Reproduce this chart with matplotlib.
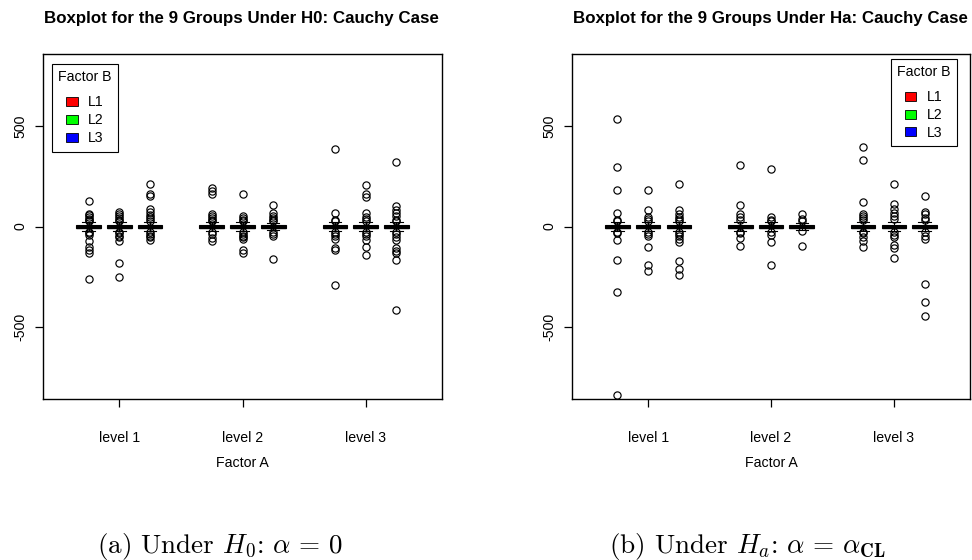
import matplotlib
matplotlib.use("Agg")
import matplotlib.pyplot as plt
from matplotlib.patches import Patch

plt.rcParams['font.family'] = ['Liberation Sans', 'DejaVu Sans']
plt.rcParams['mathtext.fontset'] = 'cm'

# ---------------- data ----------------
positions = [1, 2, 3, 5, 6, 7, 9, 10, 11]
level_ticks = [2, 6, 10]
level_labels = ['level 1', 'level 2', 'level 3']
factor_b = ['L1', 'L2', 'L3']
box_colors = ['#FF0000', '#00FF00', '#0000FF']

# Under H0
h0_med = [0, 0, 0, 0, 0, 0, 0, 0, 0]
h0_q1 = [-7, -7, -7, -7, -7, -6, -7, -7, -8]
h0_q3 = [7, 7, 8, 7, 6, 6, 7, 7, 8]
h0_whislo = [-20, -20, -20, -20, -20, -18, -20, -20, -20]
h0_whishi = [20, 20, 20, 20, 20, 18, 20, 20, 20]
h0_fliers = [
    [125, 63, 55, 45, 38, 30, 25, -25, -32, -40, -73, -103, -117, -133, -263],
    [72, 63, 52, 42, 33, 25, -25, -33, -45, -53, -73, -183, -252],
    [210, 163, 152, 88, 72, 55, 45, 35, 27, -25, -35, -45, -53, -65],
    [192, 177, 160, 63, 52, 40, 30, 25, -25, -35, -57, -70],
    [162, 50, 42, 33, 25, -25, -35, -45, -53, -62, -117, -133],
    [108, 68, 52, 40, 30, 25, -25, -35, -45, -160],
    [387, 65, 30, 25, -25, -35, -45, -62, -108, -115, -290],
    [208, 163, 147, 67, 47, 38, 28, -25, -35, -45, -67, -103, -142],
    [323, 100, 83, 67, 50, 33, 25, -25, -35, -50, -67, -108, -120, -133, -165, -417],
]

# Under Ha
ha_med = [0, 0, 0, 0, 0, 0, 0, 0, 0]
ha_q1 = [-7, -7, -7, -7, -6, -5, -7, -7, -7]
ha_q3 = [7, 7, 7, 7, 6, 5, 7, 7, 7]
ha_whislo = [-20, -20, -20, -20, -20, -15, -20, -20, -20]
ha_whishi = [20, 20, 20, 20, 20, 15, 20, 20, 20]
ha_fliers = [
    [535, 297, 183, 68, 30, 25, -25, -33, -65, -167, -327, -842],
    [180, 83, 47, 35, 25, -25, -35, -48, -100, -192, -223],
    [210, 83, 63, 47, 35, 25, -25, -35, -48, -62, -78, -170, -212, -240],
    [308, 108, 60, 47, 30, -25, -33, -57, -95],
    [288, 47, 30, 25, -25, -40, -75, -192],
    [60, 38, 25, -20, -98],
    [398, 333, 122, 63, 52, 40, 30, -25, -33, -50, -73, -102],
    [210, 113, 88, 68, 52, 35, -25, -40, -53, -92, -108, -155],
    [152, 72, 60, 43, 30, -28, -45, -62, -285, -375, -445],
]

titles = ['Boxplot for the 9 Groups Under H0: Cauchy Case',
          'Boxplot for the 9 Groups Under Ha: Cauchy Case']
captions = [r'(a) Under $H_0$: $\alpha\,=\,\mathbf{0}$',
            r'(b) Under $H_a$: $\alpha\,=\,\alpha_{\mathbf{CL}}$']
y_ticks = [-500, 0, 500]
y_lim = (-862, 862)
x_lim = (-0.48, 12.48)

# ---------------- figure ----------------
W, H = 972, 560
fig = plt.figure(figsize=(W / 100, H / 100), dpi=100)
ax1 = fig.add_axes([43 / W, (H - 399) / H, 399 / W, 345 / H])
ax2 = fig.add_axes([572 / W, (H - 399) / H, 398 / W, 345 / H])

FS = 10.2


def draw(ax, med, q1, q3, wlo, whi, fliers, legend_anchor, legend_loc):
    stats = []
    for i in range(len(positions)):
        stats.append(dict(med=med[i], q1=q1[i], q3=q3[i],
                          whislo=wlo[i], whishi=whi[i], fliers=fliers[i]))
    bp = ax.bxp(stats, positions=positions, widths=0.8, capwidths=0.4,
                patch_artist=True, showfliers=True,
                boxprops=dict(edgecolor='black', linewidth=0.8),
                whiskerprops=dict(color='black', linewidth=0.8, linestyle=(0, (3, 2))),
                capprops=dict(color='black', linewidth=0.8),
                medianprops=dict(color='black', linewidth=2.4, solid_capstyle='butt'),
                flierprops=dict(marker='o', markerfacecolor='none',
                                markeredgecolor='black', markersize=5.2,
                                markeredgewidth=0.85))
    for i, patch in enumerate(bp['boxes']):
        patch.set_facecolor(box_colors[i % 3])
    ax.set_xlim(*x_lim)
    ax.set_ylim(*y_lim)
    ax.set_xticks(level_ticks)
    ax.set_xticklabels(level_labels)
    ax.set_yticks(y_ticks)
    ax.set_yticklabels([str(v) for v in y_ticks], rotation=90, va='center')
    ax.tick_params(axis='both', direction='out', length=6, width=0.9,
                   labelsize=FS, color='black')
    ax.tick_params(axis='x', pad=17)
    ax.tick_params(axis='y', pad=5)
    ax.set_xlabel('Factor A', fontsize=FS, labelpad=8)
    for s in ax.spines.values():
        s.set_linewidth(1.0)
        s.set_color('black')
    handles = [Patch(facecolor=c, edgecolor='black', linewidth=0.6) for c in box_colors]
    leg = ax.legend(handles, factor_b, title='Factor B', loc=legend_loc,
                    bbox_to_anchor=legend_anchor, borderaxespad=0,
                    fontsize=FS, title_fontsize=FS, fancybox=False,
                    framealpha=1, edgecolor='black', handlelength=0.8,
                    handleheight=0.6, labelspacing=0.27, handletextpad=0.75,
                    borderpad=0.45)
    leg.get_frame().set_linewidth(0.8)
    leg._legend_box.sep = 8


draw(ax1, h0_med, h0_q1, h0_q3, h0_whislo, h0_whishi, h0_fliers,
     (0.0226, 0.971), 'upper left')
draw(ax2, ha_med, ha_q1, ha_q3, ha_whislo, ha_whishi, ha_fliers,
     (0.967, 0.986), 'upper right')

fig.text(241 / W, 1 - 18 / H, titles[0], ha='center', va='center',
         fontsize=12.2, fontweight='bold')
fig.text(770 / W, 1 - 18 / H, titles[1], ha='center', va='center',
         fontsize=12.2, fontweight='bold')
fig.text(220 / W, 1 - 546 / H, captions[0], ha='center', va='center',
         fontsize=19.5, family='cmr10')
fig.text(748 / W, 1 - 546 / H, captions[1], ha='center', va='center',
         fontsize=19.5, family='cmr10')

fig.savefig('out.png', dpi=100)
